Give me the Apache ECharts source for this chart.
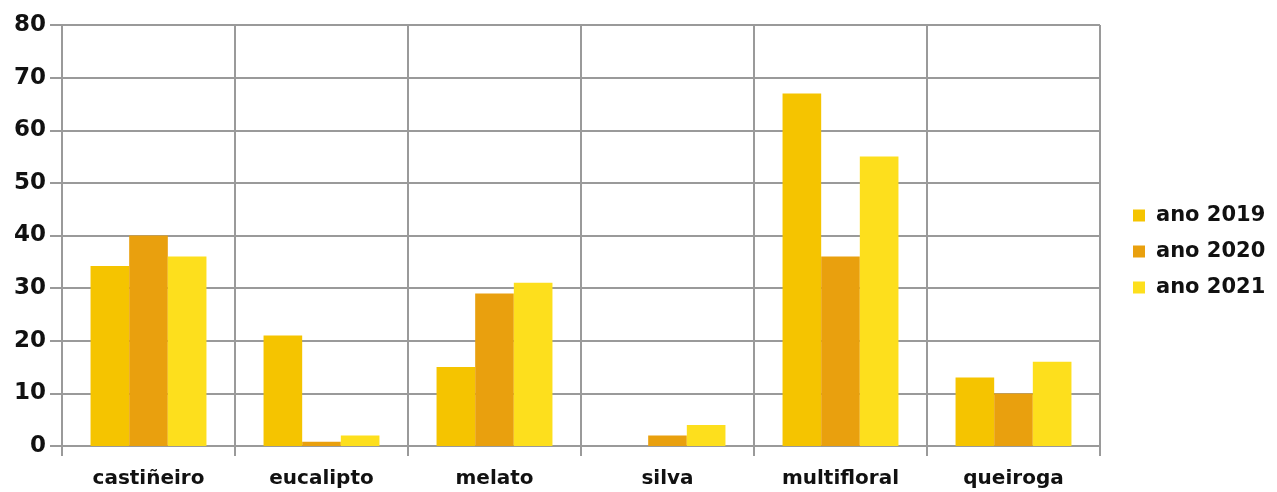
<!DOCTYPE html>
<html><head><meta charset="utf-8">
<script src="https://cdn.jsdelivr.net/npm/echarts@6/dist/echarts.min.js"></script>
<style>html,body{margin:0;padding:0;background:#fff}#c{width:1277px;height:492px}</style>
</head><body><div id="c"></div>
<script>
const categories = ['castiñeiro','eucalipto','melato','silva','multifloral','queiroga'];
const seriesNames = ['ano 2019','ano 2020','ano 2021'];
const ano2019 = [34.2, 21, 15, 0, 67, 13];
const ano2020 = [40, 0.8, 29, 2, 36, 10];
const ano2021 = [36, 2, 31, 4, 55, 16];
const yTicks = [0,10,20,30,40,50,60,70,80];
const colors = ['#F5C400','#E9A00E','#FDDF1D'];
const values = [ano2019, ano2020, ano2021];
const grey = '#9a9a9a';
const font = 'DejaVu Sans';
const chart = echarts.init(document.getElementById('c'));
chart.setOption({
  animation:false,
  grid:{left:62,right:177,top:25,bottom:46,containLabel:false},
  legend:{
    orient:'vertical', left:1128, top:200, itemWidth:12, itemHeight:12, itemGap:15,
    icon:'rect',
    textStyle:{fontFamily:font,fontWeight:'bold',fontSize:21,color:'#111',padding:[0,0,0,6]},
    data:seriesNames
  },
  xAxis:{
    type:'category', data:categories, boundaryGap:true,
    axisLine:{lineStyle:{color:grey,width:2}},
    axisTick:{show:true,length:10,lineStyle:{color:grey,width:2}},
    splitLine:{show:true,lineStyle:{color:grey,width:2}},
    axisLabel:{fontFamily:font,fontWeight:'bold',fontSize:20,color:'#111',margin:23}
  },
  yAxis:{
    type:'value', min:yTicks[0], max:yTicks[yTicks.length-1], interval:10,
    axisLine:{show:true,lineStyle:{color:grey,width:2}},
    axisTick:{show:true,length:12,lineStyle:{color:grey,width:2}},
    splitLine:{show:true,lineStyle:{color:grey,width:2}},
    axisLabel:{fontFamily:font,fontWeight:'bold',fontSize:23,color:'#111',margin:16}
  },
  series: seriesNames.map((n,i)=>({
    name:n, type:'bar', data:values[i], barGap:'0%', barCategoryGap:'33%',
    itemStyle:{color:colors[i]}
  }))
});
</script></body></html>
